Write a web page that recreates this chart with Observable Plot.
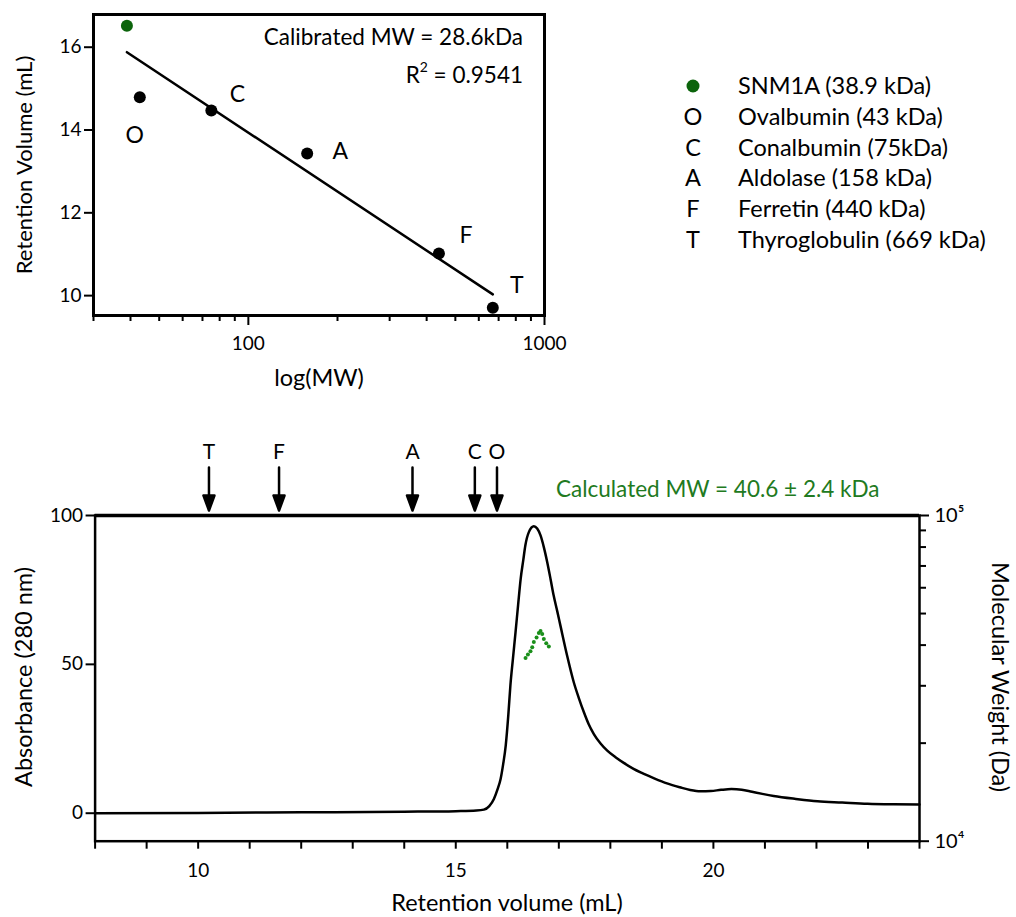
<!DOCTYPE html>
<html><head><meta charset="utf-8">
<script src="https://cdn.jsdelivr.net/npm/d3@7"></script>
<script src="https://cdn.jsdelivr.net/npm/@observablehq/plot@0.6"></script>
<style>
body{margin:0;background:#fff;}
#root{position:relative;width:1016px;height:917px;font-family:Lato,sans-serif;color:#000;overflow:hidden;background:#fff}
.abs{position:absolute;white-space:nowrap;line-height:1}
.plotwrap{position:absolute}
</style></head><body><div id="root"></div>
<script>
// ---------- calibration (top chart) ----------
const stdCodes = ["O", "C", "A", "F", "T"];
const stdNames = ["Ovalbumin (43 kDa)", "Conalbumin (75kDa)", "Aldolase (158 kDa)", "Ferretin (440 kDa)", "Thyroglobulin (669 kDa)"];
const stdMW = [43, 75, 158, 440, 669];
const stdRV = [14.79, 14.47, 13.43, 11.02, 9.71];
const sampleName = "SNM1A (38.9 kDa)";
const sampleMW = [38.9];
const sampleRV = [16.52];
const fitMW = [38.9, 669];
const fitRV = [15.88, 10.03];
const calibLabel = "Calibrated MW = 28.6kDa";
const r2Value = "0.9541";
const topMinorTicks = [30, 40, 50, 60, 70, 80, 90, 200, 300, 400, 500, 600, 700, 800, 900];
const topMajorTicks = [100, 1000];
const topYTicks = [10, 12, 14, 16];

// ---------- chromatogram (bottom chart) ----------
const traceVol = [8, 10, 12, 14, 15, 15.4, 15.545, 15.65, 15.74, 15.81, 15.87, 15.92, 15.97, 16.02, 16.06, 16.11, 16.16, 16.21, 16.26, 16.31, 16.35, 16.42, 16.515, 16.58, 16.645, 16.71, 16.775, 16.84, 16.90, 16.97, 17.03, 17.16, 17.29, 17.39, 17.485, 17.58, 17.68, 17.81, 17.94, 18.1, 18.26, 18.45, 18.6, 18.85, 19.1, 19.35, 19.55, 19.75, 19.95, 20.15, 20.35, 20.55, 20.75, 20.95, 21.17, 21.6, 22.02, 22.5, 22.99, 23.5, 24];
const traceAbs = [0, 0.1, 0.3, 0.5, 0.7, 0.9, 1.2, 2.4, 4.8, 8, 11.5, 16.5, 22.8, 33, 42.9, 52, 60.8, 70, 78.8, 85, 89.9, 94.5, 96.4, 95.6, 93.3, 89.3, 84.3, 78.6, 73.1, 67.8, 63.1, 53, 44, 38.6, 34, 29.9, 26.6, 23.4, 21.0, 18.8, 16.9, 14.9, 13.6, 11.7, 10.0, 8.7, 7.8, 7.35, 7.45, 7.85, 8.1, 7.9, 7.2, 6.5, 5.8, 4.8, 4.0, 3.6, 3.2, 3.0, 2.9];
const mwVol = [16.354, 16.40, 16.45, 16.484, 16.515, 16.568, 16.612, 16.645, 16.678, 16.709, 16.756, 16.806];
const mwDa = [36500, 37400, 38300, 39400, 40900, 42200, 43600, 44200, 43300, 41800, 40500, 39600];
const arrowCodes = ["T", "F", "A", "C", "O"];
const arrowVol = [10.21, 11.57, 14.16, 15.37, 15.80];
const calcLabel = "Calculated MW = 40.6 \u00B1 2.4 kDa";
const volTicks = [8, 9, 10, 11, 12, 13, 14, 15, 16, 17, 18, 19, 20, 21, 22, 23, 24];
const volLabels = [10, 15, 20];
const absTicks = [0, 50, 100];
const mwMajorTicks = [10000, 100000];
const mwMinorTicks = [20000, 30000, 40000, 50000, 60000, 70000, 80000, 90000];

// ---------- styles ----------
const FONT = "Lato, sans-serif";
const GREEN_DARK = "#0b640b";
const GREEN_DOTS = "#1a8f1a";
const GREEN_TEXT = "#217a21";
const TITLE = "23.5px";

const root = document.getElementById("root");
function addDiv(html, css) {
  const d = document.createElement("div");
  d.className = "abs";
  d.innerHTML = html;
  Object.assign(d.style, css);
  root.appendChild(d);
  return d;
}
function place(node, left, top) {
  const w = document.createElement("div");
  w.className = "plotwrap";
  w.style.left = left + "px";
  w.style.top = top + "px";
  w.appendChild(node);
  root.appendChild(w);
}

// ---------- top chart ----------
const stds = stdCodes.map((c, i) => ({code: c, mw: stdMW[i], rv: stdRV[i]}));
const sample = sampleMW.map((m, i) => ({mw: m, rv: sampleRV[i]}));
const fit = fitMW.map((m, i) => ({mw: m, rv: fitRV[i]}));
const labelOffset = {O: [-5, 38], C: [26, -16], A: [33, -2], F: [27, -18], T: [24, -22]};

const topPlot = Plot.plot({
  width: 560, height: 400,
  marginLeft: 93, marginRight: 16, marginTop: 14, marginBottom: 85,
  style: {fontFamily: FONT, fontSize: "19px", background: "transparent", color: "black", overflow: "visible"},
  x: {type: "log", domain: [30, 1000]},
  y: {domain: [9.52, 16.79]},
  marks: [
    Plot.axisX({ticks: topMinorTicks, tickSize: 6, tickFormat: () => "", strokeWidth: 2, label: null}),
    Plot.axisX({ticks: topMajorTicks, tickSize: 10, tickPadding: 11, tickFormat: d => String(d), strokeWidth: 2, label: null}),
    Plot.axisY({ticks: topYTicks, tickSize: 9, tickPadding: 3, strokeWidth: 2, label: null}),
    Plot.frame({strokeWidth: 3}),
    Plot.line(fit, {x: "mw", y: "rv", strokeWidth: 2.5, stroke: "black"}),
    Plot.dot(stds, {x: "mw", y: "rv", r: 6, fill: "black", stroke: null}),
    Plot.dot(sample, {x: "mw", y: "rv", r: 6, fill: GREEN_DARK, stroke: null}),
    ...stds.map(d => Plot.text([d], {x: "mw", y: "rv", text: "code", fontSize: 23, dx: labelOffset[d.code][0], dy: labelOffset[d.code][1]}))
  ]
});
place(topPlot, 0, 0);

addDiv(calibLabel, {right: (1016 - 523) + "px", top: "37px", transform: "translateY(-50%)", fontSize: "22.5px"});
addDiv("R<sup style='font-size:0.62em;vertical-align:0.75em;line-height:0'>2</sup> = " + r2Value, {right: (1016 - 523) + "px", top: "75px", transform: "translateY(-50%)", fontSize: "22.5px"});
addDiv("Retention Volume (mL)", {left: "24px", top: "165px", transform: "translate(-50%,-50%) rotate(-90deg)", fontSize: "22px"});
addDiv("log(MW)", {left: "319px", top: "378px", transform: "translate(-50%,-50%)", fontSize: TITLE});

// ---------- legend ----------
const legendRows = [{sym: "dot", name: sampleName}].concat(stdCodes.map((c, i) => ({sym: c, name: stdNames[i]})));
legendRows.forEach((r, i) => {
  const y = 86 + i * 30.8;
  if (r.sym === "dot") {
    addDiv(`<svg width="16" height="16"><circle cx="8" cy="8" r="6.5" fill="${GREEN_DARK}"/></svg>`, {left: "685px", top: (y - 8) + "px"});
  } else {
    addDiv(r.sym, {left: "693px", top: y + "px", transform: "translate(-50%,-50%)", fontSize: TITLE});
  }
  addDiv(r.name, {left: "738px", top: y + "px", transform: "translateY(-50%)", fontSize: TITLE});
});

// ---------- bottom chart ----------
const trace = traceVol.map((v, i) => ({v, a: traceAbs[i]}));
const arrows = arrowCodes.map((c, i) => ({code: c, v: arrowVol[i]}));
const mwPts = mwVol.map((v, i) => ({v, mw: mwDa[i]}));

const arrowShape = {
  draw(ctx, l) {
    const h = 15, w = 5.5;
    ctx.moveTo(0, 0);
    ctx.lineTo(0, -l + h);
    ctx.moveTo(-w, -l + h);
    ctx.lineTo(0, -l);
    ctx.lineTo(w, -l + h);
    ctx.closePath();
  }
};

const B = {width: 1016, height: 497, marginLeft: 94.6, marginRight: 97, marginTop: 95, marginBottom: 76.3};

const absPlot = Plot.plot({
  ...B,
  style: {fontFamily: FONT, fontSize: "19px", background: "transparent", color: "black", overflow: "visible"},
  x: {domain: [8, 24]},
  y: {domain: [-9.4, 100]},
  marks: [
    Plot.axisX({ticks: volTicks, tickSize: 8, tickPadding: 14, tickFormat: d => volLabels.includes(d) ? String(d) : "", strokeWidth: 2, label: null}),
    Plot.axisY({ticks: absTicks, tickSize: 9, tickPadding: 3, strokeWidth: 2, label: null}),
    Plot.frame({strokeWidth: 2.5}),
    Plot.ruleY([100], {strokeWidth: 3.5}),
    Plot.line(trace, {x: "v", y: "a", strokeWidth: 2.5, stroke: "black", curve: "monotone-x"}),
    Plot.vector(arrows, {x: "v", frameAnchor: "top", dy: -5, rotate: 180, anchor: "end", length: 43, shape: arrowShape, fill: "black", stroke: "black", strokeWidth: 2.5}),
    Plot.text(arrows, {x: "v", frameAnchor: "top", dy: -71, text: "code", fontSize: 21})
  ]
});
place(absPlot, 0, 420);

const mwPlot = Plot.plot({
  ...B,
  style: {fontFamily: FONT, fontSize: "19px", background: "transparent", color: "black", overflow: "visible"},
  x: {domain: [8, 24], axis: null},
  y: {type: "log", domain: [1e4, 1e5]},
  marks: [
    Plot.axisY({anchor: "right", ticks: mwMinorTicks, tickSize: 6, tickFormat: () => "", strokeWidth: 2, label: null}),
    Plot.axisY({anchor: "right", ticks: mwMajorTicks, tickSize: 9, tickPadding: 6, tickFormat: d => d === 1e5 ? "10\u2075" : "10\u2074", strokeWidth: 2, label: null, fontSize: 20}),
    Plot.dot(mwPts, {x: "v", y: "mw", r: 2, fill: GREEN_DOTS, stroke: null})
  ]
});
place(mwPlot, 0, 420);

addDiv(calcLabel, {left: "556px", top: "489px", transform: "translateY(-50%)", fontSize: "22.5px", color: GREEN_TEXT});
addDiv("Absorbance (280 nm)", {left: "24px", top: "677px", transform: "translate(-50%,-50%) rotate(-90deg)", fontSize: TITLE});
addDiv("Molecular Weight (Da)", {left: "1000px", top: "677px", transform: "translate(-50%,-50%) rotate(90deg)", fontSize: TITLE});
addDiv("Retention volume (mL)", {left: "507px", top: "903px", transform: "translate(-50%,-50%)", fontSize: TITLE});
</script>
</body></html>
